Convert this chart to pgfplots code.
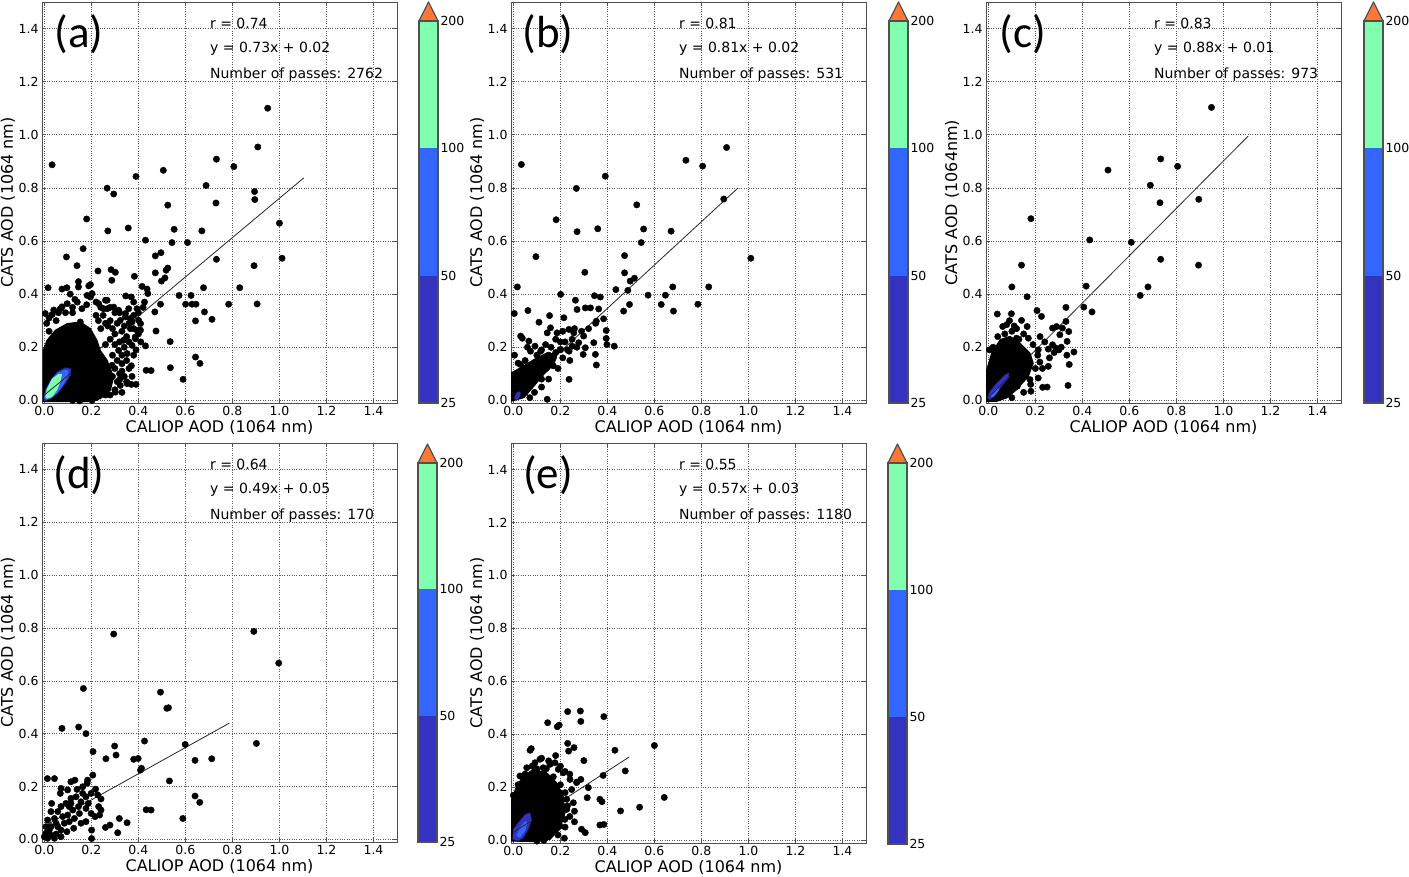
\documentclass[border=0pt]{standalone}
\usepackage{pgfplots}
\pgfplotsset{compat=1.18}
\usepackage{fontspec}
\setmainfont{DejaVu Sans}
\newfontfamily\panelfont{Carlito}
\definecolor{cbA}{RGB}{51,51,191}
\definecolor{cbB}{RGB}{51,102,255}
\definecolor{cbC}{RGB}{128,255,176}
\definecolor{cbD}{RGB}{255,119,51}
\definecolor{spine}{RGB}{80,80,80}
\pgfplotsset{
  scat/.style={
    scale only axis, width=355pt,
    xmin=-0.01, xmax=1.5, ymin=-0.01, ymax=1.5,
    xtick={0,0.2,0.4,0.6,0.8,1.0,1.2,1.4},
    ytick={0,0.2,0.4,0.6,0.8,1.0,1.2,1.4},
    grid=major,
    major grid style={dotted, black!65, line width=0.6pt},
    tick align=inside, major tick length=4pt,
    tick style={spine, line width=0.6pt},
    axis line style={spine, line width=0.9pt},
    /pgf/number format/assume math mode=true,
    ticklabel style={font=\fontsize{12.5}{14}\selectfont},
    xticklabel style={/pgf/number format/.cd, fixed, fixed zerofill, precision=1},
    yticklabel style={/pgf/number format/.cd, fixed, fixed zerofill, precision=1},
    xlabel style={at={(axis description cs:0.5,-0.0748)}, anchor=base, font=\fontsize{16}{19}\selectfont},
    ylabel style={at={(axis description cs:-0.0817,0.5)}, anchor=base, font=\fontsize{16}{19}\selectfont},
  },
  cbar/.style={
    scale only axis, width=19pt,
    xmin=0, xmax=1, ymin=0, ymax=3,
    xtick=\empty, ytick={0,1,2,3}, yticklabels={25,50,100,200},
    yticklabel pos=right, major tick length=0pt,
    axis on top, clip=false,
    axis line style={spine, line width=1.2pt},
    yticklabel style={font=\fontsize{12.5}{14}\selectfont, xshift=-1pt},
  },
  dots/.style={only marks, mark=*, mark size=3.2pt, mark options={draw=black, fill=black, line width=0.4pt}},
  regline/.style={no markers, black!85, line width=0.8pt},
}
\tikzset{
  ann/.style={anchor=base west, font=\fontsize{14}{16}\selectfont},
  plab/.style={anchor=center, font=\panelfont\fontsize{45}{50}\selectfont},
}
\newcommand{\colorbar}[3]{%
\begin{axis}[cbar, at={(#1pt,#2pt)}, anchor=south west, height=#3pt]
\addplot[fill=cbA, draw=none] coordinates {(0,0)(1,0)(1,1)(0,1)} -- cycle;
\addplot[fill=cbB, draw=none] coordinates {(0,1)(1,1)(1,2)(0,2)} -- cycle;
\addplot[fill=cbC, draw=none] coordinates {(0,2)(1,2)(1,3)(0,3)} -- cycle;
\addplot[fill=cbD, draw=spine, line width=1.2pt, line join=round] coordinates {(0,3)(1,3)(0.5,3.15)} -- cycle;
\end{axis}}
\begin{document}
\begin{tikzpicture}[x=1pt,y=1pt]
\useasboundingbox (0,0) rectangle (1409,877);

% ---------------- (a) ----------------
\begin{axis}[scat, at={(42pt,474pt)}, anchor=south west, height=401pt,
  xlabel={CALIOP AOD (1064 nm)}, ylabel={CATS AOD (1064 nm)}]
\addplot[regline] coordinates {(0,0.02)(1.104,0.838)};
\addplot[dots] coordinates {
(0.95,1.10)(0.908,0.954)(0.033,0.887)(0.732,0.908)(0.806,0.880)(0.506,0.866)(0.390,0.843)(0.267,0.799)(0.295,0.777)(0.688,0.809)
(0.894,0.786)(0.895,0.756)(0.730,0.743)(0.525,0.735)(0.180,0.683)(1.000,0.667)(0.270,0.638)(0.357,0.649)(0.552,0.644)(0.670,0.638)
(0.430,0.603)(0.543,0.594)(0.609,0.594)(0.165,0.571)(0.094,0.540)(0.472,0.544)(0.496,0.556)(0.732,0.531)(1.011,0.535)(0.892,0.507)
(0.139,0.507)(0.228,0.487)(0.284,0.492)(0.302,0.482)(0.287,0.452)(0.525,0.498)(0.518,0.490)(0.472,0.480)(0.498,0.449)(0.513,0.461)
(0.383,0.467)(0.016,0.424)(0.075,0.419)(0.096,0.424)(0.145,0.447)(0.145,0.427)(0.189,0.431)(0.196,0.436)(0.416,0.429)(0.437,0.419)
(0.624,0.395)(0.573,0.395)(0.677,0.424)(0.831,0.424)(0.645,0.362)(0.601,0.362)(0.628,0.362)(0.784,0.362)(0.905,0.363)(0.494,0.362)
(0.681,0.333)(0.643,0.299)(0.713,0.305)(0.475,0.261)(0.535,0.221)(0.430,0.205)(0.643,0.163)(0.662,0.139)(0.536,0.123)(0.433,0.113)
(0.454,0.112)(0.590,0.079)(0.373,0.090)(0.321,0.079)(0.426,0.370)(0.470,0.333)(0.440,0.402)(0.346,0.393)(0.370,0.389)
(0.004,0.327)(0.033,0.323)(0.068,0.345)(0.097,0.364)(0.160,0.345)(0.196,0.389)(0.231,0.364)(0.252,0.345)(0.267,0.377)(0.295,0.351)
(0.323,0.301)(0.345,0.327)(0.359,0.345)(0.373,0.295)(0.394,0.264)(0.409,0.289)(0.387,0.232)(0.373,0.207)(0.337,0.226)(0.316,0.188)
(0.352,0.176)(0.330,0.138)(0.288,0.132)(0.352,0.063)(0.323,0.056)(0.302,0.031)(0.267,0.050)(0.238,0.025)(0.203,0.0)(0.167,0.013)
(0.281,0.084)(0.182,0.395)(0.203,0.402)(0.260,0.377)(0.267,0.345)(0.316,0.339)(0.345,0.314)(0.366,0.308)(0.380,0.320)(0.394,0.345)
(0.401,0.301)(0.366,0.270)(0.409,0.264)(0.387,0.239)(0.153,0.295)(0.075,0.352)(0.050,0.30)(0.120,0.33)(0.22,0.32)(0.28,0.30)
(0.30,0.25)(0.33,0.26)(0.35,0.24)(0.30,0.21)(0.33,0.17)(0.30,0.12)(0.32,0.10)(0.34,0.09)(0.31,0.07)(0.28,0.02)
(0.25,0.05)(0.22,0.01)(0.15,-0.002)(0.12,0.0)(0.36,0.12)(0.38,0.17)(0.02,0.26)(0.01,0.29)(0.26,0.29)(0.24,0.27)
(0.25,0.32)(0.27,0.28)(0.29,0.27)(0.31,0.29)(0.32,0.33)(0.34,0.28)(0.36,0.29)(0.38,0.27)(0.40,0.25)(0.36,0.22)
(0.34,0.20)(0.32,0.22)(0.28,0.23)(0.26,0.21)(0.29,0.17)(0.31,0.15)(0.35,0.15)(0.37,0.13)(0.39,0.19)(0.41,0.22)
(0.27,0.11)(0.25,0.13)(0.29,0.09)(0.33,0.11)(0.35,0.07)(0.37,0.06)(0.39,0.06)(0.33,0.03)(0.30,0.04)(0.26,0.02)
(0.24,0.04)(0.21,0.03)(0.19,0.01)(0.40,0.33)(0.42,0.35)(0.38,0.37)(0.30,0.33)(0.28,0.35)(0.24,0.35)(0.22,0.37)
(0.18,0.36)(0.14,0.37)(0.12,0.35)(0.09,0.33)(0.06,0.33)(0.04,0.34)(0.02,0.31)(0.11,0.40)(0.13,0.38)(0.23,0.30)
};
\addplot[fill=black, draw=black, line width=1pt] coordinates {
(-0.005,-0.005)(-0.005,0.188)(0.011,0.226)(0.047,0.264)(0.097,0.289)(0.153,0.295)(0.196,0.270)(0.224,0.226)(0.238,0.188)
(0.267,0.151)(0.295,0.088)(0.281,0.038)(0.238,0.006)(0.182,-0.005)} -- cycle;
\addplot[fill=cbA, draw=cbA!60!black, line width=0.5pt] coordinates {
(-0.003,0.006)(0.004,0.038)(0.026,0.075)(0.054,0.107)(0.089,0.123)(0.114,0.119)(0.111,0.094)(0.089,0.063)(0.061,0.031)(0.026,0.006)(0.004,-0.003)} -- cycle;
\addplot[fill=cbB, draw=none] coordinates {
(0.0,0.01)(0.007,0.04)(0.03,0.078)(0.057,0.103)(0.085,0.115)(0.103,0.112)(0.098,0.085)(0.078,0.055)(0.055,0.027)(0.028,0.008)(0.008,0.002)} -- cycle;
\addplot[fill=cbC, draw=none] coordinates {
(0.004,0.013)(0.011,0.044)(0.033,0.082)(0.061,0.100)(0.075,0.098)(0.068,0.069)(0.054,0.038)(0.033,0.013)(0.011,0.006)} -- cycle;
\addplot[regline] coordinates {(0,0.02)(0.11,0.10)};
\node[plab] at (axis cs:0.148,1.38) {(a)};
\node[ann] at (axis cs:0.69,1.40) {r = 0.74};
\node[ann] at (axis cs:0.69,1.31) {y = 0.73x + 0.02};
\node[ann] at (axis cs:0.69,1.21) {Number of passes: 2762};
\end{axis}
\colorbar{419}{474}{382}

% ---------------- (b) ----------------
\begin{axis}[scat, at={(511pt,474pt)}, anchor=south west, height=401pt,
  xlabel={CALIOP AOD (1064 nm)}, ylabel={CATS AOD (1064 nm)}]
\addplot[regline] coordinates {(0,0.02)(0.956,0.80)};
\addplot[dots] coordinates {
(0.907,0.952)(0.034,0.888)(0.734,0.904)(0.805,0.882)(0.391,0.844)(0.268,0.798)(0.895,0.758)(0.525,0.736)(0.182,0.680)(0.271,0.635)
(0.359,0.646)(0.554,0.645)(0.671,0.637)(0.544,0.594)(0.096,0.541)(1.010,0.535)(0.473,0.545)(0.304,0.482)(0.473,0.480)(0.515,0.460)
(0.497,0.449)(0.017,0.427)(0.436,0.417)(0.487,0.414)(0.678,0.427)(0.831,0.427)(0.201,0.399)(0.573,0.396)(0.647,0.396)(0.629,0.361)
(0.785,0.362)(0.494,0.361)(0.681,0.336)(0.469,0.336)(0.345,0.394)(0.370,0.389)(0.004,0.327)(0.062,0.338)(0.264,0.377)(0.271,0.342)
(0.306,0.348)(0.328,0.348)(0.363,0.344)(0.353,0.298)(0.384,0.307)(0.395,0.263)(0.395,0.233)(0.398,0.210)(0.429,0.204)(0.154,0.319)
(0.031,0.242)(0.038,0.234)(0.066,0.223)(0.109,0.294)(0.215,0.311)(0.236,0.267)(0.257,0.254)(0.299,0.242)(0.250,0.204)(0.278,0.217)
(0.306,0.198)(0.342,0.217)(0.349,0.173)(0.353,0.133)(0.297,0.173)(0.237,0.185)(0.201,0.192)(0.186,0.254)(0.144,0.254)(0.158,0.273)
(0.137,0.210)(0.092,0.204)(0.031,0.135)(0.073,0.185)(0.116,0.185)(0.237,0.079)(0.144,0.004)
(0.02,0.14)(0.05,0.15)(0.10,0.17)(0.12,0.19)(0.16,0.20)(0.20,0.19)(0.21,0.16)(0.19,0.12)(0.15,0.08)(0.12,0.05)
(0.09,0.03)(0.07,0.01)(0.10,0.10)(0.22,0.22)(0.25,0.23)(0.24,0.15)(0.18,0.23)(0.06,0.20)(0.005,0.17)(0.03,0.10)
(0.14,0.12)(0.13,0.15)(0.27,0.20)(0.29,0.26)(0.32,0.27)(0.35,0.29)(0.26,0.27)(0.21,0.26)(0.04,0.05)(0.17,0.16)
(0.08,0.12)(0.11,0.14)(0.15,0.17)(0.18,0.18)(0.20,0.22)(0.23,0.19)(0.17,0.13)(0.12,0.08)(0.08,0.07)(0.05,0.03)
};
\addplot[fill=black, draw=black, line width=1pt] coordinates {
(-0.008,-0.003)(-0.008,0.104)(0.031,0.123)(0.088,0.154)(0.144,0.179)(0.186,0.173)(0.172,0.135)(0.130,0.098)(0.088,0.054)(0.045,0.010)} -- cycle;
\addplot[fill=cbA, draw=cbA!60!black, line width=0.5pt] coordinates {
(0.005,0.008)(0.010,0.025)(0.020,0.033)(0.030,0.030)(0.028,0.015)(0.018,0.003)(0.008,0.002)} -- cycle;
\node[plab] at (axis cs:0.148,1.38) {(b)};
\node[ann] at (axis cs:0.69,1.40) {r = 0.81};
\node[ann] at (axis cs:0.69,1.31) {y = 0.81x + 0.02};
\node[ann] at (axis cs:0.69,1.21) {Number of passes: 531};
\end{axis}
\colorbar{889}{474}{382}

% ---------------- (c) ----------------
\begin{axis}[scat, at={(986pt,474pt)}, anchor=south west, height=401pt,
  xlabel={CALIOP AOD (1064 nm)}, ylabel={CATS AOD (1064nm)}]
\addplot[regline] coordinates {(0,0.01)(1.105,0.995)};
\addplot[dots] coordinates {
(0.949,1.103)(0.733,0.909)(0.805,0.881)(0.509,0.867)(0.689,0.810)(0.730,0.744)(0.895,0.757)(0.181,0.684)(0.431,0.604)(0.608,0.595)
(0.733,0.531)(0.894,0.509)(0.141,0.509)(0.100,0.427)(0.416,0.430)(0.679,0.427)(0.646,0.395)(0.165,0.390)(0.038,0.325)(0.098,0.326)
(0.406,0.351)(0.441,0.333)(0.330,0.350)(0.330,0.297)(0.342,0.259)(0.335,0.222)(0.364,0.182)(0.344,0.135)(0.334,0.170)(0.339,0.056)
(0.207,0.338)(0.226,0.316)(0.273,0.272)(0.290,0.278)(0.304,0.247)(0.315,0.272)(0.255,0.193)(0.287,0.197)(0.273,0.209)(0.212,0.190)
(0.255,0.128)(0.219,0.144)(0.212,0.084)(0.231,0.049)(0.181,0.034)(0.165,0.278)(0.141,0.301)(0.120,0.234)(0.170,0.234)(0.061,0.278)
(0.078,0.285)(0.028,0.182)(0.123,0.053)(0.177,0.078)(0.149,0.128)
(0.02,0.20)(0.06,0.22)(0.10,0.26)(0.07,0.25)(0.12,0.27)(0.15,0.25)(0.19,0.21)(0.21,0.17)(0.20,0.12)(0.18,0.06)
(0.15,0.03)(0.10,0.01)(0.005,0.19)(0.24,0.22)(0.26,0.16)(0.23,0.12)(0.16,0.16)(0.04,0.24)(0.09,0.30)(0.13,0.23)
(0.25,0.05)(0.28,0.18)(0.30,0.19)(0.31,0.20)(0.22,0.24)(0.11,0.28)
};
\addplot[fill=black, draw=black, line width=1pt] coordinates {
(-0.01,-0.004)(-0.007,0.115)(0.014,0.178)(0.050,0.228)(0.092,0.241)(0.134,0.216)(0.177,0.178)(0.191,0.140)(0.170,0.090)(0.120,0.040)(0.078,0.009)(0.035,-0.004)} -- cycle;
\addplot[fill=cbA, draw=cbA!60!black, line width=0.5pt] coordinates {
(-0.004,0.009)(0.007,0.034)(0.035,0.065)(0.071,0.096)(0.088,0.103)(0.085,0.084)(0.057,0.053)(0.028,0.021)(0.007,0.003)} -- cycle;
\addplot[fill=cbB, draw=none] coordinates {
(0.007,0.015)(0.028,0.040)(0.050,0.053)(0.042,0.034)(0.021,0.011)} -- cycle;
\addplot[regline] coordinates {(0,0.01)(0.09,0.09)};
\node[plab] at (axis cs:0.148,1.38) {(c)};
\node[ann] at (axis cs:0.69,1.40) {r = 0.83};
\node[ann] at (axis cs:0.69,1.31) {y = 0.88x + 0.01};
\node[ann] at (axis cs:0.69,1.21) {Number of passes: 973};
\end{axis}
\colorbar{1364}{474}{382}

% ---------------- (d) ----------------
\begin{axis}[scat, at={(42pt,35pt)}, anchor=south west, height=399pt,
  xlabel={CALIOP AOD (1064 nm)}, ylabel={CATS AOD (1064 nm)}]
\addplot[regline] coordinates {(0,0.05)(0.787,0.44)};
\addplot[dots] coordinates {
(0.295,0.777)(0.891,0.787)(0.997,0.667)(0.166,0.571)(0.494,0.557)(0.521,0.496)(0.528,0.498)(0.075,0.420)(0.146,0.425)(0.177,0.400)
(0.426,0.372)(0.902,0.363)(0.299,0.353)(0.599,0.359)(0.305,0.319)(0.207,0.332)(0.262,0.305)(0.380,0.303)(0.399,0.306)(0.641,0.299)
(0.712,0.305)(0.409,0.262)(0.413,0.269)(0.532,0.221)(0.641,0.164)(0.661,0.140)(0.433,0.112)(0.454,0.111)(0.589,0.079)(0.319,0.079)
(0.352,0.063)(0.312,0.025)(0.279,0.054)(0.260,0.045)(0.201,0.035)(0.201,0.003)(0.013,0.230)(0.043,0.230)(0.206,0.243)(0.184,0.224)
(0.130,0.224)(0.182,0.212)(0.241,0.153)(0.227,0.168)(0.218,0.190)(0.231,0.124)(0.235,0.092)(0.216,0.086)(0.199,0.098)(0.177,0.117)
(0.156,0.142)(0.139,0.189)(0.163,0.174)(0.177,0.161)(0.187,0.136)(0.145,0.124)(0.113,0.155)(0.099,0.187)(0.071,0.193)(0.068,0.174)
(0.106,0.124)(0.121,0.111)(0.099,0.092)(0.078,0.086)(0.057,0.105)(0.031,0.136)(0.028,0.105)(0.043,0.079)(0.014,0.073)(0.007,0.048)
(0.028,0.048)(0.057,0.048)(0.085,0.061)(0.106,0.067)(0.128,0.079)(0.149,0.098)(0.125,0.042)(0.096,0.029)(0.071,0.035)(0.050,0.020)
(0.028,0.016)(0.007,0.023)(0.014,0.004)(0.043,0.004)(0.071,0.010)(0.0,0.01)(0.021,0.035)(0.050,0.061)(0.071,0.124)(0.092,0.136)
(0.113,0.136)(0.135,0.161)(0.199,0.174)(0.163,0.199)(0.113,0.218)(0.241,0.111)(0.177,0.067)(0.156,0.061)
};
\node[plab] at (axis cs:0.148,1.38) {(d)};
\node[ann] at (axis cs:0.69,1.40) {r = 0.64};
\node[ann] at (axis cs:0.69,1.31) {y = 0.49x + 0.05};
\node[ann] at (axis cs:0.69,1.21) {Number of passes: 170};
\end{axis}
\colorbar{418}{35}{379}

% ---------------- (e) ----------------
\begin{axis}[scat, at={(511pt,34pt)}, anchor=south west, height=400pt,
  xlabel={CALIOP AOD (1064 nm)}, ylabel={CATS AOD (1064 nm)}]
\addplot[regline] coordinates {(0,0.03)(0.493,0.315)};
\addplot[dots] coordinates {
(0.600,0.358)(0.642,0.162)(0.432,0.340)(0.476,0.262)(0.385,0.467)(0.231,0.486)(0.285,0.488)(0.287,0.449)(0.146,0.444)(0.187,0.429)
(0.195,0.435)(0.076,0.346)(0.071,0.340)(0.231,0.366)(0.258,0.350)(0.235,0.337)(0.300,0.301)(0.382,0.245)(0.319,0.199)(0.314,0.161)
(0.368,0.155)(0.377,0.146)(0.456,0.111)(0.537,0.125)(0.385,0.060)(0.368,0.058)(0.290,0.042)(0.306,0.029)(0.217,0.008)(0.255,0.142)
(0.248,0.192)(0.241,0.230)(0.269,0.218)(0.287,0.230)(0.212,0.255)(0.191,0.268)(0.177,0.293)(0.156,0.287)(0.127,0.274)(0.113,0.306)
(0.092,0.293)(0.057,0.274)(0.028,0.243)(0.021,0.155)(0.227,0.117)(0.219,0.079)(0.198,0.054)(0.156,0.029)(0.227,0.155)(0.198,0.180)
(0.0,0.17)(0.02,0.21)(0.05,0.25)(0.08,0.28)(0.10,0.27)(0.14,0.27)(0.17,0.24)(0.20,0.21)(0.22,0.18)(0.23,0.13)
(0.24,0.09)(0.22,0.05)(0.19,0.02)(0.13,0.0)(0.10,-0.003)(0.26,0.11)(0.26,0.07)(0.15,0.30)(0.12,0.31)(0.20,0.28)
(0.22,0.26)(0.24,0.25)(0.27,0.22)(0.18,0.32)(0.11,0.23)(0.13,0.25)
};
\addplot[fill=black, draw=black, line width=1pt] coordinates {
(-0.007,-0.003)(-0.007,0.155)(0.014,0.205)(0.042,0.243)(0.085,0.268)(0.142,0.255)(0.184,0.218)(0.212,0.167)(0.220,0.104)(0.198,0.042)(0.156,0.004)(0.099,-0.005)} -- cycle;
\addplot[fill=cbA, draw=cbA!60!black, line width=0.5pt] coordinates {
(-0.003,0.004)(0.0,0.042)(0.021,0.067)(0.050,0.098)(0.071,0.104)(0.078,0.079)(0.064,0.042)(0.042,0.010)(0.021,-0.003)} -- cycle;
\addplot[fill=cbB, draw=none] coordinates {
(0.014,0.016)(0.028,0.048)(0.050,0.073)(0.059,0.067)(0.050,0.035)(0.028,0.010)} -- cycle;
\addplot[regline] coordinates {(0,0.03)(0.07,0.07)};
\node[plab] at (axis cs:0.148,1.38) {(e)};
\node[ann] at (axis cs:0.69,1.40) {r = 0.55};
\node[ann] at (axis cs:0.69,1.31) {y = 0.57x + 0.03};
\node[ann] at (axis cs:0.69,1.21) {Number of passes: 1180};
\end{axis}
\colorbar{888}{33}{381}
\end{tikzpicture}
\end{document}
